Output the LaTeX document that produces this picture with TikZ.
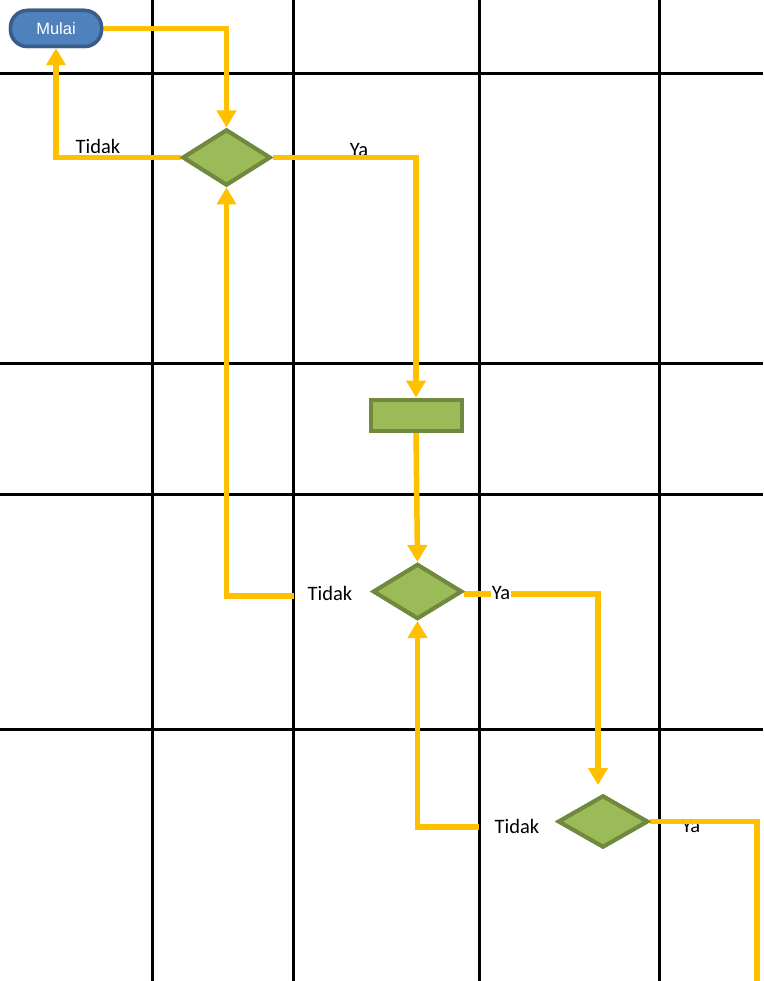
\documentclass[tikz,border=0pt]{standalone}
\usepackage{fontspec}
\setmainfont{Carlito}
\newfontfamily\arialfont{Liberation Sans}
\usetikzlibrary{shapes.geometric,arrows.meta}
\definecolor{flowyellow}{HTML}{FFC000}
\definecolor{greenfill}{HTML}{9BBB59}
\definecolor{greenline}{HTML}{71893F}
\definecolor{bluefill}{HTML}{4F81BD}
\definecolor{blueline}{HTML}{385D8A}
\tikzset{
  gridline/.style={line width=3pt,black},
  flow/.style={line width=5.5pt,flowyellow,line join=miter},
  flowarrow/.style={flow,-{Triangle[width=19pt,length=17pt]}},
  decision/.style={diamond,draw=greenline,fill=greenfill,line width=4pt,inner sep=0pt},
  processbox/.style={rectangle,draw=greenline,fill=greenfill,line width=4pt,inner sep=0pt,minimum width=91pt,minimum height=31pt},
  terminal/.style={rectangle,rounded corners=17pt,draw=blueline,fill=bluefill,line width=3.5pt,inner sep=0pt,minimum width=91pt,minimum height=36pt,text=white,font=\arialfont\fontsize{16.5}{18}\selectfont},
  lbl/.style={font=\fontsize{20.5}{24}\selectfont,inner sep=0pt,text=black}
}
\begin{document}
\begin{tikzpicture}[x=1pt,y=-1pt]
\useasboundingbox[fill=white] (0,0) rectangle (763,981);
% grid
\foreach \gx in {152,293,479,659} \draw[gridline] (\gx,0) -- (\gx,981);
\foreach \gy in {74,363,494,729} \draw[gridline] (0,\gy) -- (763,\gy);
% nodes
\node[terminal] (mulai) at (56,28.5) {Mulai};
\node[decision,minimum width=88pt,minimum height=56pt] (d1) at (226.5,157.5) {};
\node[processbox] (box) at (416,415) {};
\node[decision,minimum width=89pt,minimum height=55pt] (d2) at (417.5,591.5) {};
\node[decision,minimum width=90pt,minimum height=52pt] (d3) at (603,821.5) {};
% coordinates
\coordinate (t2) at (294,596);
\coordinate (t3) at (479,827);
\coordinate (a3) at (598,785);
\coordinate (e3) at (757,981);
% labels
\node[lbl] (l1) at (98,146) {Tidak};
\node[lbl] (l2) at (359,150) {Ya};
\node[lbl] (l3) at (330,593) {Tidak};
\node[lbl] (l5) at (517,826) {Tidak};
\node[lbl] (l6) at (691,826) {Ya};
% connectors
\draw[flowarrow] (mulai.east) -| (d1.north);
\draw[flowarrow] (d1.west) -| (mulai.south);
\draw[flowarrow] (d1.east) -| (box.north);
\draw[flowarrow] (box.south) -- (d2.north);
\draw[flowarrow] (t2) -| (d1.south);
\draw[flowarrow] ([yshift=-2.5pt]d2.east) -| (a3);
\draw[flowarrow] (t3) -| (d2.south);
\draw[flow] (d3.east) -| (e3);
\node[lbl,fill=white,inner sep=1pt] (l4) at (501,593) {Ya};
% redraw shapes on top
\node[terminal] at (mulai) {Mulai};
\node[decision,minimum width=88pt,minimum height=56pt] at (d1) {};
\node[processbox] at (box) {};
\node[decision,minimum width=89pt,minimum height=55pt] at (d2) {};
\node[decision,minimum width=90pt,minimum height=52pt] at (d3) {};
\end{tikzpicture}
\end{document}
